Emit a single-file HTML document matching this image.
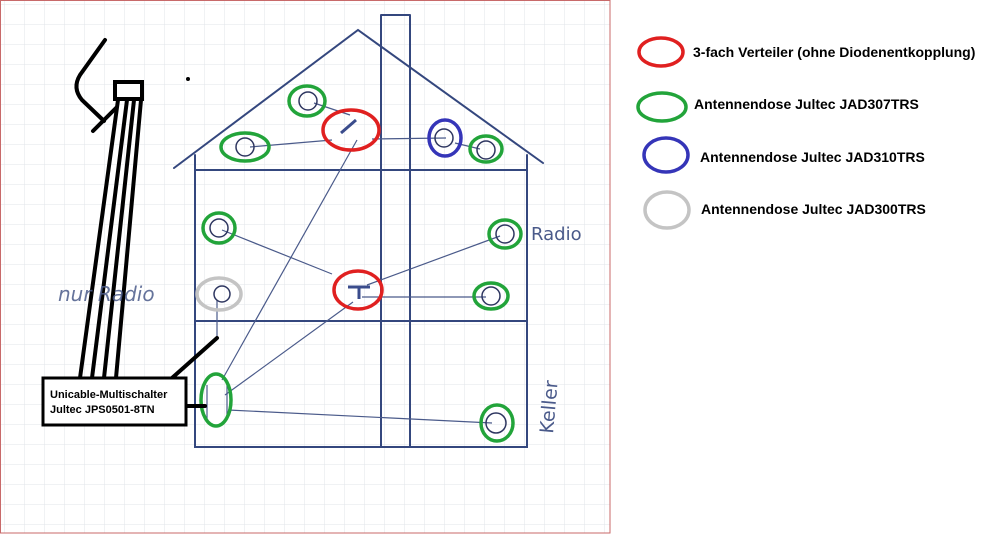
<!DOCTYPE html>
<html><head><meta charset="utf-8"><style>
html,body{margin:0;padding:0;background:#fff;}
svg{display:block;}
.hw{font-family:"DejaVu Sans","Liberation Sans",sans-serif;fill:#4a5a8a;}
.lg{font-family:"Liberation Sans",sans-serif;font-weight:bold;font-size:14px;fill:#000;}
</style></head><body>
<svg width="1000" height="536" viewBox="0 0 1000 536" xmlns="http://www.w3.org/2000/svg">
<defs>
<pattern id="g" width="20" height="20" patternUnits="userSpaceOnUse" x="5" y="5">
<path d="M20 0V20M0 20H20" fill="none" stroke="#e2e4ea" stroke-width="1"/>
</pattern>
</defs>
<rect x="0" y="0" width="610" height="533" fill="url(#g)"/>
<rect x="0.5" y="0.5" width="609.5" height="532.5" fill="none" stroke="#c86a6a" stroke-width="1"/>

<g stroke="#34477e" stroke-width="2" fill="none" stroke-linecap="round">
<path d="M174 168 L358 30 L543 163"/>
<path d="M381 15 H410 M381 15 V447 M410 15 V447"/>
<path d="M195 155 V447 H527 V155"/>
<path d="M195 170 H527 M195 321 H527"/>
</g>

<g stroke="#4a5a8a" stroke-width="1.2" fill="none">
<path d="M250 147 L332 140"/>
<path d="M372 139 L446 138"/>
<path d="M314 103 L350 115"/>
<path d="M357 140 L222 380"/>
<path d="M455 143 L480 149"/>
<path d="M222 230 L332 274"/>
<path d="M367 285 L500 236"/>
<path d="M362 297 L486 297"/>
<path d="M353 302 L225 395"/>
<path d="M228 410 L492 423"/>
<path d="M217 300 V336"/>
<path d="M207 385 V420 M227 385 V420"/>
</g>
<g stroke="#3a4c8c" stroke-width="3" fill="none">
<path d="M341 133 L356 120"/>
<path d="M348 287 H370 M359 287 V299"/>
</g>

<g stroke="#2e3660" stroke-width="1.5" fill="none">
<circle cx="308" cy="101" r="9"/><circle cx="245" cy="147" r="9"/>
<circle cx="444" cy="138" r="9"/><circle cx="486" cy="150" r="9"/>
<circle cx="219" cy="228" r="9"/><circle cx="505" cy="234" r="9"/>
<circle cx="491" cy="296" r="9"/><circle cx="222" cy="294" r="8"/>
<circle cx="496" cy="423" r="10"/>
</g>

<g fill="none" stroke-width="3.5">
<ellipse cx="307" cy="101" rx="18" ry="15" stroke="#22a43a"/>
<ellipse cx="245" cy="147" rx="24" ry="14" stroke="#22a43a"/>
<ellipse cx="351" cy="130" rx="28" ry="20" stroke="#e02020"/>
<ellipse cx="445" cy="138" rx="16" ry="18" stroke="#3535b8"/>
<ellipse cx="486" cy="149" rx="16" ry="13" stroke="#22a43a"/>
<ellipse cx="219" cy="228" rx="16" ry="15" stroke="#22a43a"/>
<ellipse cx="505" cy="234" rx="16" ry="14" stroke="#22a43a"/>
<ellipse cx="358" cy="290" rx="24" ry="19" stroke="#e02020"/>
<ellipse cx="491" cy="296" rx="17" ry="13" stroke="#22a43a"/>
<ellipse cx="219" cy="294" rx="22" ry="16" stroke="#c4c4c4"/>
<ellipse cx="216" cy="400" rx="15" ry="26" stroke="#22a43a"/>
<ellipse cx="497" cy="423" rx="16" ry="18" stroke="#22a43a"/>
</g>

<g stroke="#000" fill="none" stroke-linecap="round">
<path d="M105 40 L80 75 Q72 88 82 100 L104 121" stroke-width="4"/>
<path d="M93 131 L116 108" stroke-width="4"/>
<rect x="115" y="82" width="27" height="17" stroke-width="4" fill="#fff"/>
<path d="M118 100 L80 378 M127 100 L92 378 M134 100 L104 378 M141 100 L116 378" stroke-width="4"/>
<path d="M217 338 L172 378" stroke-width="4"/>
<path d="M180 406 H205" stroke-width="4"/>
</g>
<circle cx="188" cy="79" r="2" fill="#000"/>

<rect x="43" y="378" width="143" height="47" fill="#fff" stroke="#000" stroke-width="3"/>
<text x="50" y="398" class="lg" style="font-size:11px">Unicable-Multischalter</text>
<text x="50" y="413" class="lg" style="font-size:11px">Jultec JPS0501-8TN</text>

<text x="58" y="301" class="hw" font-size="20" font-style="italic" fill-opacity="0.85">nur Radio</text>
<text x="531" y="240" class="hw" font-size="18">Radio</text>
<text transform="translate(553,434) rotate(-85)" class="hw" font-size="19">Keller</text>

<g fill="none" stroke-width="3.5">
<ellipse cx="661" cy="52" rx="22" ry="14" stroke="#e02020"/>
<ellipse cx="662" cy="107" rx="24" ry="14" stroke="#22a43a"/>
<ellipse cx="666" cy="155" rx="22" ry="17" stroke="#3535b8"/>
<ellipse cx="667" cy="210" rx="22" ry="18" stroke="#c4c4c4"/>
</g>
<text x="693" y="57" class="lg">3-fach Verteiler (ohne Diodenentkopplung)</text>
<text x="694" y="109" class="lg">Antennendose Jultec JAD307TRS</text>
<text x="700" y="162" class="lg">Antennendose Jultec JAD310TRS</text>
<text x="701" y="214" class="lg">Antennendose Jultec JAD300TRS</text>
</svg>
</body></html>
